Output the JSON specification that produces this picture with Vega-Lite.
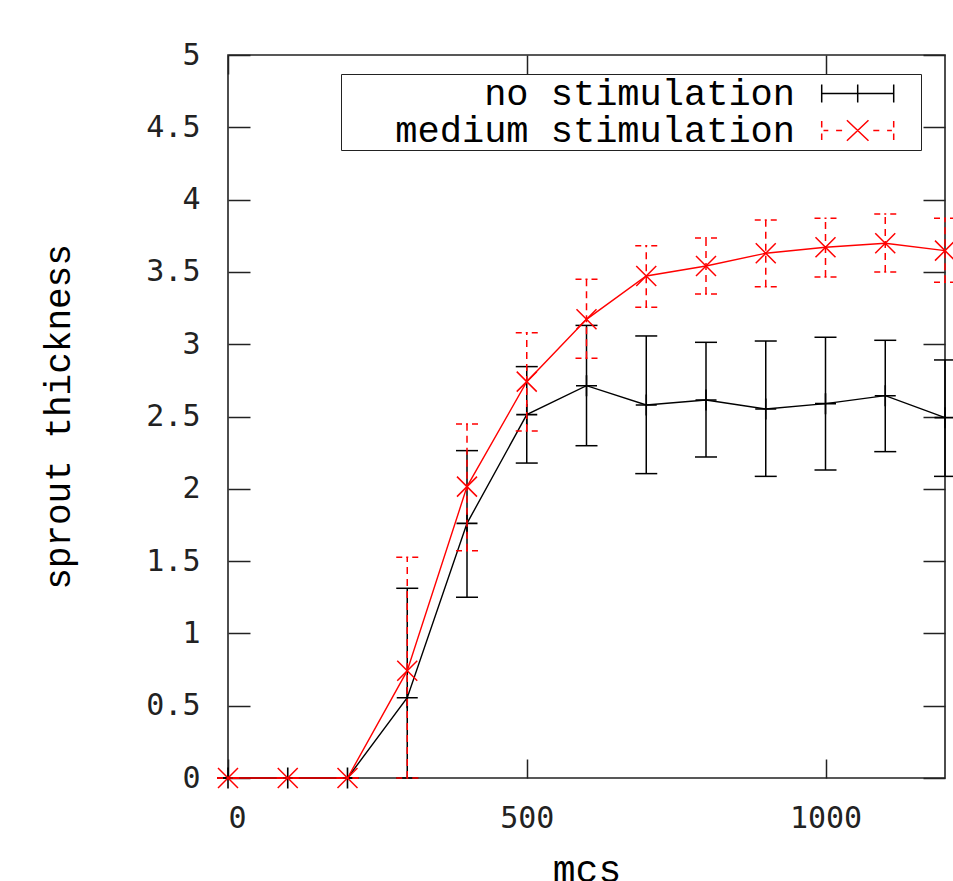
{
  "$schema": "https://vega.github.io/schema/vega-lite/v6.json",
  "width": 717,
  "height": 723,
  "autosize": "none",
  "padding": {"left": 228, "top": 55, "right": 8, "bottom": 103},
  "background": "white",
  "config": {
    "view": {"stroke": "#222", "strokeWidth": 1.6},
    "axis": {"grid": false, "domain": false}
  },
  "data": {
    "values": [
      {"mcs": 0, "series": "no stimulation", "mean": 0, "lo": 0, "hi": 0},
      {"mcs": 100, "series": "no stimulation", "mean": 0, "lo": 0, "hi": 0},
      {"mcs": 200, "series": "no stimulation", "mean": 0, "lo": 0, "hi": 0},
      {"mcs": 300, "series": "no stimulation", "mean": 0.555, "lo": 0, "hi": 1.312},
      {"mcs": 400, "series": "no stimulation", "mean": 1.761, "lo": 1.25, "hi": 2.264},
      {"mcs": 500, "series": "no stimulation", "mean": 2.513, "lo": 2.178, "hi": 2.845},
      {"mcs": 600, "series": "no stimulation", "mean": 2.713, "lo": 2.298, "hi": 3.13},
      {"mcs": 700, "series": "no stimulation", "mean": 2.58, "lo": 2.105, "hi": 3.057},
      {"mcs": 800, "series": "no stimulation", "mean": 2.614, "lo": 2.22, "hi": 3.013},
      {"mcs": 900, "series": "no stimulation", "mean": 2.552, "lo": 2.086, "hi": 3.022},
      {"mcs": 1000, "series": "no stimulation", "mean": 2.589, "lo": 2.13, "hi": 3.048},
      {"mcs": 1100, "series": "no stimulation", "mean": 2.644, "lo": 2.257, "hi": 3.027},
      {"mcs": 1200, "series": "no stimulation", "mean": 2.492, "lo": 2.086, "hi": 2.891},
      {"mcs": 0, "series": "medium stimulation", "mean": 0, "lo": 0, "hi": 0},
      {"mcs": 100, "series": "medium stimulation", "mean": 0, "lo": 0, "hi": 0},
      {"mcs": 200, "series": "medium stimulation", "mean": 0, "lo": 0, "hi": 0},
      {"mcs": 300, "series": "medium stimulation", "mean": 0.742, "lo": 0, "hi": 1.526},
      {"mcs": 400, "series": "medium stimulation", "mean": 2.015, "lo": 1.572, "hi": 2.448},
      {"mcs": 500, "series": "medium stimulation", "mean": 2.741, "lo": 2.4, "hi": 3.08},
      {"mcs": 600, "series": "medium stimulation", "mean": 3.172, "lo": 2.902, "hi": 3.449},
      {"mcs": 700, "series": "medium stimulation", "mean": 3.472, "lo": 3.255, "hi": 3.681},
      {"mcs": 800, "series": "medium stimulation", "mean": 3.541, "lo": 3.347, "hi": 3.734},
      {"mcs": 900, "series": "medium stimulation", "mean": 3.629, "lo": 3.398, "hi": 3.859},
      {"mcs": 1000, "series": "medium stimulation", "mean": 3.67, "lo": 3.465, "hi": 3.871},
      {"mcs": 1100, "series": "medium stimulation", "mean": 3.698, "lo": 3.499, "hi": 3.9},
      {"mcs": 1200, "series": "medium stimulation", "mean": 3.647, "lo": 3.428, "hi": 3.871}
    ]
  },
  "layer": [
    {
      "transform": [{"filter": "datum.series == 'no stimulation'"}],
      "mark": {"type": "rule", "color": "#000", "strokeWidth": 1.5},
      "encoding": {
        "x": {"field": "mcs", "type": "quantitative",
          "scale": {"domain": [0, 1200], "nice": false, "zero": false},
          "axis": {"orient": "bottom", "values": [0, 500, 1000], "format": "d",
            "tickSize": -19, "tickWidth": 1.5, "tickColor": "#222",
            "labelFont": "DejaVu Sans Mono", "labelFontSize": 30, "labelColor": "#222",
            "labelPadding": 44, "labelDx": 10,
            "title": "mcs", "titleFont": "Liberation Mono", "titleFontSize": 38,
            "titleFontWeight": "normal", "titleColor": "#000", "titlePadding": 18}},
        "y": {"field": "lo", "type": "quantitative",
          "scale": {"domain": [0, 5], "nice": false, "zero": false},
          "axis": {"orient": "left", "values": [0, 0.5, 1, 1.5, 2, 2.5, 3, 3.5, 4, 4.5, 5], "format": "~g",
            "tickSize": -22, "tickWidth": 1.5, "tickColor": "#222",
            "labelFont": "DejaVu Sans Mono", "labelFontSize": 30, "labelColor": "#222",
            "labelPadding": 50,
            "title": "sprout thickness", "titleFont": "Liberation Mono", "titleFontSize": 36,
            "titleFontWeight": "normal", "titleColor": "#000", "titlePadding": 68}},
        "y2": {"field": "hi"}
      }
    },
    {
      "transform": [{"filter": "datum.series == 'no stimulation'"}],
      "mark": {"type": "point", "shape": "M-1,0L1,0", "size": 484, "filled": false, "color": "#000", "strokeWidth": 1.5, "opacity": 1},
      "encoding": {
        "x": {"field": "mcs", "type": "quantitative", "axis": null},
        "y": {"field": "lo", "type": "quantitative", "axis": null}
      }
    },
    {
      "transform": [{"filter": "datum.series == 'no stimulation'"}],
      "mark": {"type": "point", "shape": "M-1,0L1,0", "size": 484, "filled": false, "color": "#000", "strokeWidth": 1.5, "opacity": 1},
      "encoding": {
        "x": {"field": "mcs", "type": "quantitative", "axis": null},
        "y": {"field": "hi", "type": "quantitative", "axis": null}
      }
    },
    {
      "transform": [{"filter": "datum.series == 'no stimulation'"}],
      "mark": {"type": "line", "color": "#000", "strokeWidth": 1.4},
      "encoding": {
        "x": {"field": "mcs", "type": "quantitative", "axis": null},
        "y": {"field": "mean", "type": "quantitative", "axis": null}
      }
    },
    {
      "transform": [{"filter": "datum.series == 'no stimulation'"}],
      "mark": {"type": "point", "shape": "M-1,0L1,0M0,-1L0,1", "size": 441, "filled": false, "color": "#000", "strokeWidth": 1.6, "opacity": 1},
      "encoding": {
        "x": {"field": "mcs", "type": "quantitative", "axis": null},
        "y": {"field": "mean", "type": "quantitative", "axis": null}
      }
    },
    {
      "transform": [{"filter": "datum.series == 'medium stimulation'"}],
      "mark": {"type": "rule", "color": "#ff0000", "strokeWidth": 1.5, "strokeDash": [7, 5]},
      "encoding": {
        "x": {"field": "mcs", "type": "quantitative", "axis": null},
        "y": {"field": "lo", "type": "quantitative", "axis": null},
        "y2": {"field": "hi"}
      }
    },
    {
      "transform": [{"filter": "datum.series == 'medium stimulation'"}],
      "mark": {"type": "point", "shape": "M-1,0L1,0", "size": 484, "filled": false, "color": "#ff0000", "strokeWidth": 1.5, "opacity": 1, "strokeDash": [6, 4, 2, 4]},
      "encoding": {
        "x": {"field": "mcs", "type": "quantitative", "axis": null},
        "y": {"field": "lo", "type": "quantitative", "axis": null}
      }
    },
    {
      "transform": [{"filter": "datum.series == 'medium stimulation'"}],
      "mark": {"type": "point", "shape": "M-1,0L1,0", "size": 484, "filled": false, "color": "#ff0000", "strokeWidth": 1.5, "opacity": 1, "strokeDash": [6, 4, 2, 4]},
      "encoding": {
        "x": {"field": "mcs", "type": "quantitative", "axis": null},
        "y": {"field": "hi", "type": "quantitative", "axis": null}
      }
    },
    {
      "transform": [{"filter": "datum.series == 'medium stimulation'"}],
      "mark": {"type": "line", "color": "#ff0000", "strokeWidth": 1.4},
      "encoding": {
        "x": {"field": "mcs", "type": "quantitative", "axis": null},
        "y": {"field": "mean", "type": "quantitative", "axis": null}
      }
    },
    {
      "transform": [{"filter": "datum.series == 'medium stimulation'"}],
      "mark": {"type": "point", "shape": "M-1,-1L1,1M-1,1L1,-1", "size": 400, "filled": false, "color": "#ff0000", "strokeWidth": 1.5, "opacity": 1},
      "encoding": {
        "x": {"field": "mcs", "type": "quantitative", "axis": null},
        "y": {"field": "mean", "type": "quantitative", "axis": null}
      }
    },
    {
      "mark": {"type": "point", "filled": false, "opacity": 0, "strokeWidth": 1.5},
      "encoding": {
        "x": {"field": "mcs", "type": "quantitative",
          "axis": {"orient": "top", "values": [0, 500, 1000], "labels": false, "title": null,
            "tickSize": -19, "tickWidth": 1.5, "tickColor": "#222"}},
        "y": {"field": "mean", "type": "quantitative",
          "axis": {"orient": "right", "values": [0, 0.5, 1, 1.5, 2, 2.5, 3, 3.5, 4, 4.5, 5], "labels": false, "title": null,
            "tickSize": -22, "tickWidth": 1.5, "tickColor": "#222"}},
        "color": {"field": "series", "type": "nominal",
          "scale": {"domain": ["no stimulation", "medium stimulation"], "range": ["#000000", "#ff0000"]},
          "legend": {"orient": "none", "legendX": 113, "legendY": 19, "title": null,
            "direction": "vertical", "labelAlign": "right", "labelOffset": -81.2, "symbolOffset": 497.2,
            "labelFont": "Liberation Mono", "labelFontSize": 37, "labelColor": "#000", "labelLimit": 1000,
            "symbolSize": 576, "symbolStrokeWidth": 1.5, "symbolOpacity": 1, "rowPadding": -20,
            "strokeColor": "#222", "padding": 1}},
        "shape": {"field": "series", "type": "nominal",
          "scale": {"domain": ["no stimulation", "medium stimulation"],
            "range": ["M-3,0L3,0M-3,-0.75L-3,0.75M3,-0.75L3,0.75M0,-0.75L0,0.75M-0.9,0L0.9,0M4.9,0L4.9,0",
                      "M-3,-0.8L-3,-0.25M-3,0.25L-3,0.8M-2.85,0L-2.45,0M-1.8,0L-1.3,0M-0.9,-0.85L0.9,0.85M-0.9,0.85L0.9,-0.85M1.3,0L1.8,0M2.45,0L2.85,0M3,-0.8L3,-0.25M3,0.25L3,0.8M4.9,0L4.9,0"]},
          "legend": {"orient": "none", "legendX": 113, "legendY": 19, "title": null,
            "direction": "vertical", "labelAlign": "right", "labelOffset": -81.2, "symbolOffset": 497.2,
            "labelFont": "Liberation Mono", "labelFontSize": 37, "labelColor": "#000", "labelLimit": 1000,
            "symbolSize": 576, "symbolStrokeWidth": 1.5, "symbolOpacity": 1, "rowPadding": -20,
            "strokeColor": "#222", "padding": 1}}
      }
    }
  ],
  "resolve": {"axis": {"x": "independent", "y": "independent"}}
}
